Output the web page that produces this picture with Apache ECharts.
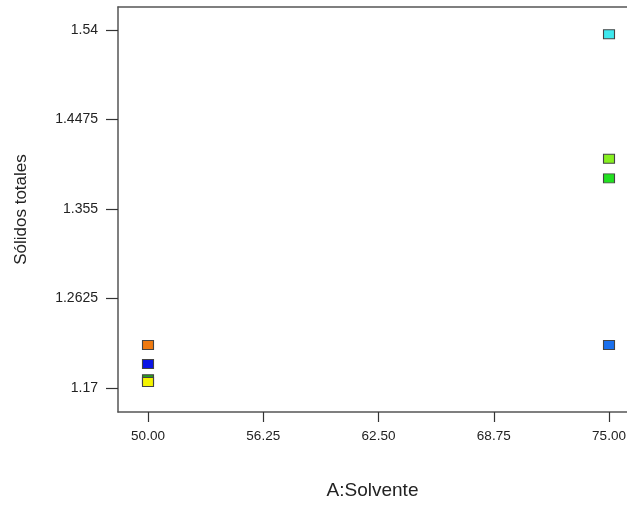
<!DOCTYPE html>
<html>
<head>
<meta charset="utf-8">
<script src="https://cdn.jsdelivr.net/npm/echarts@6/dist/echarts.min.js"></script>
<style>html,body{margin:0;padding:0;background:#fff}#c{width:627px;height:505px}</style>
</head>
<body>
<div id="c"></div>
<script>
var xValues = [50, 50, 50, 50, 75, 75, 75, 75];
var yValues = [1.2144, 1.1948, 1.179, 1.1762, 1.5356, 1.407, 1.3867, 1.2144];
var pointColors = ['#f07a10', '#0a14e6', '#2a9a20', '#f5f500', '#3ee8ee', '#86f020', '#22e020', '#1a70ee'];
var xTicks = [50, 56.25, 62.5, 68.75, 75];
var xTickLabels = ['50.00', '56.25', '62.50', '68.75', '75.00'];
var yTicks = [1.17, 1.2625, 1.355, 1.4475, 1.54];
var yTickLabels = ['1.17', '1.2625', '1.355', '1.4475', '1.54'];

var data = xValues.map(function (x, i) {
  return { value: [x, yValues[i]], itemStyle: { color: pointColors[i] } };
});

var chart = echarts.init(document.getElementById('c'));
chart.setOption({
  animation: false,
  backgroundColor: '#fff',
  grid: { left: 118, right: 0, top: 7, bottom: 93, outerBoundsMode: 'none', containLabel: false },
  xAxis: [{
    type: 'value', min: 48.373, max: 75.976,
    splitLine: { show: false },
    axisLine: { show: true, lineStyle: { color: '#555', width: 1.5 } },
    axisTick: { show: true, length: 10, customValues: xTicks, lineStyle: { color: '#333', width: 1.2 } },
    axisLabel: {
      customValues: xTicks, margin: 17, color: '#222', fontSize: 13.5,
      fontFamily: 'Liberation Sans',
      formatter: function (v) { return xTickLabels[xTicks.indexOf(v)] || ''; }
    },
    name: 'A:Solvente', nameLocation: 'middle', nameGap: 69,
    nameTextStyle: { color: '#222', fontSize: 19, fontFamily: 'Liberation Sans' }
  }, {
    type: 'value', position: 'top', min: 48.373, max: 75.976,
    splitLine: { show: false },
    axisLine: { show: true, onZero: false, lineStyle: { color: '#555', width: 1.5 } },
    axisTick: { show: false }, axisLabel: { show: false }
  }],
  yAxis: {
    type: 'value', min: 1.1452, max: 1.5638,
    splitLine: { show: false },
    axisLine: { show: true, lineStyle: { color: '#555', width: 1.5 } },
    axisTick: { show: true, length: 12, customValues: yTicks, lineStyle: { color: '#333', width: 1.2 } },
    axisLabel: {
      customValues: yTicks, margin: 20, color: '#222', fontSize: 14,
      fontFamily: 'Liberation Sans',
      formatter: function (v) {
        for (var i = 0; i < yTicks.length; i++) if (Math.abs(yTicks[i] - v) < 1e-6) return yTickLabels[i];
        return '';
      }
    },
    name: 'Sólidos totales', nameLocation: 'middle', nameGap: 88, nameRotate: 90,
    nameTextStyle: { color: '#222', fontSize: 17, fontFamily: 'Liberation Sans' }
  },
  series: [{
    type: 'scatter', xAxisIndex: 0,
    symbol: 'rect', symbolSize: [11, 9],
    itemStyle: { borderColor: '#444', borderWidth: 1, opacity: 1 },
    data: data
  }]
});
</script>
</body>
</html>
